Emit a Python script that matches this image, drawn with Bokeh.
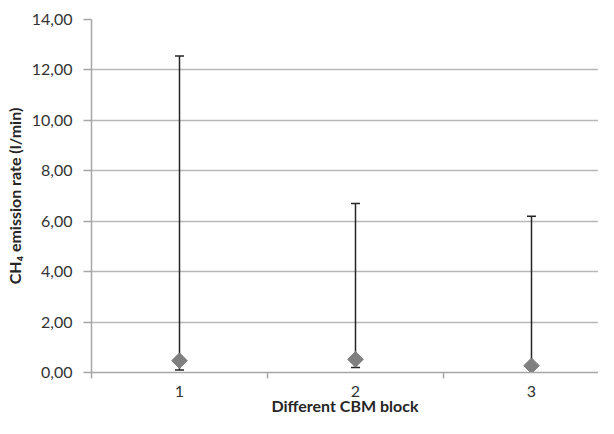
import numpy as np
from bokeh.plotting import figure
from bokeh.models import Range1d, FixedTicker, CustomJSTickFormatter, ColumnDataSource
from bokeh.embed import file_html
from bokeh.resources import INLINE

# data
categories = [1, 2, 3]
means = [0.47, 0.52, 0.27]
upper = [12.55, 6.70, 6.20]
lower = [0.10, 0.20, 0.27]
y_ticks = [0, 2, 4, 6, 8, 10, 12, 14]
x_label = "Different CBM block"
y_label = "CH\u2084 emission rate (l/min)"

src = ColumnDataSource(dict(x=categories, m=means, up=upper, lo=lower))

W, H = 598, 418
LEFT, TOP, BOTTOM = 91, 19, 46
p = figure(width=W, height=H, output_backend="svg", toolbar_location=None,
           x_range=Range1d(0.5, 0.5 + (W - LEFT) / 176), y_range=Range1d(0, 14),
           min_border_left=LEFT, min_border_right=0, min_border_top=TOP, min_border_bottom=BOTTOM)
p.outline_line_color = None
p.background_fill_color = "white"
p.border_fill_color = "white"

FONT = "Lato"
# y axis
p.yaxis.ticker = FixedTicker(ticks=y_ticks)
p.yaxis.formatter = CustomJSTickFormatter(code="return tick.toFixed(2).replace('.', ',');")
p.yaxis.axis_line_color = "#a6a6a6"
p.yaxis.axis_line_width = 1.5
p.yaxis.major_tick_line_color = "#a6a6a6"
p.yaxis.major_tick_line_width = 1.5
p.yaxis.major_tick_out = 8
p.yaxis.major_tick_in = 0
p.yaxis.minor_tick_line_color = None
p.yaxis.major_label_text_font = FONT
p.yaxis.major_label_text_font_size = "16px"
p.yaxis.major_label_text_color = "#333333"
p.yaxis.major_label_standoff = 11
p.yaxis.axis_label = y_label
p.yaxis.axis_label_text_font = FONT
p.yaxis.axis_label_text_font_style = "bold"
p.yaxis.axis_label_text_font_size = "16px"
p.yaxis.axis_label_text_color = "#262626"
p.yaxis.axis_label_standoff = 5

# x axis
p.xaxis.ticker = FixedTicker(ticks=categories, minor_ticks=[0.5, 1.5, 2.5, 3.5])
p.xaxis.axis_line_color = "#a6a6a6"
p.xaxis.axis_line_width = 1.5
p.xaxis.major_tick_line_color = None
p.xaxis.major_tick_out = 0
p.xaxis.major_tick_in = 0
p.xaxis.minor_tick_line_color = "#a6a6a6"
p.xaxis.minor_tick_line_width = 1.5
p.xaxis.minor_tick_out = 6
p.xaxis.minor_tick_in = 0
p.xaxis.major_label_text_font = FONT
p.xaxis.major_label_text_font_size = "16px"
p.xaxis.major_label_text_color = "#333333"
p.xaxis.major_label_standoff = 7
p.xaxis.axis_label = x_label
p.xaxis.axis_label_text_font = FONT
p.xaxis.axis_label_text_font_style = "bold"
p.xaxis.axis_label_text_font_size = "16px"
p.xaxis.axis_label_text_color = "#262626"
p.xaxis.axis_label_standoff = -4

p.xgrid.grid_line_color = None
p.ygrid.ticker = FixedTicker(ticks=y_ticks[1:])
p.ygrid.grid_line_color = "#b8b8b8"
p.ygrid.grid_line_width = 1.3

# error bars
p.segment(x0="x", y0="lo", x1="x", y1="up", source=src, line_color="#262626", line_width=1.5)
p.scatter(x="x", y="up", source=src, marker="dash", size=9, line_color="#262626", line_width=1.5)
p.scatter(x="x", y="lo", source=src, marker="dash", size=9, line_color="#262626", line_width=1.5)
# means
p.scatter(x="x", y="m", source=src, marker="square", angle=np.pi / 4, size=11,
          fill_color="#7f7f7f", line_color="#7f7f7f")

open("out.html", "w").write(file_html(p, INLINE))
